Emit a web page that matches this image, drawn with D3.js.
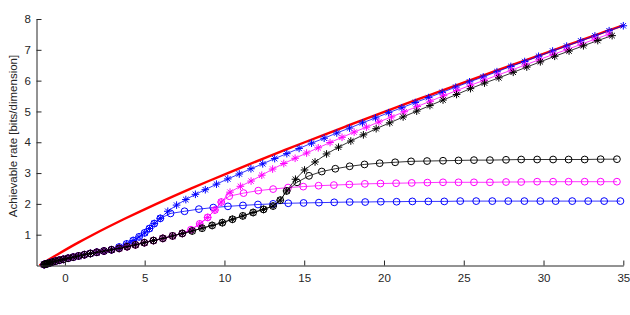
<!DOCTYPE html>
<html><head><meta charset="utf-8">
<script src="https://cdn.jsdelivr.net/npm/d3@7/dist/d3.min.js"></script>
<style>body{margin:0;background:#fff}svg{display:block}</style>
</head><body><svg id="c" width="630" height="315"></svg>
<script>
// ---- data (Eb/N0 in dB on x, rate in bits/dimension on y) ----
const xTicks = [0, 5, 10, 15, 20, 25, 30, 35];
const yTicks = [1, 2, 3, 4, 5, 6, 7, 8];
const yLabel = "Achievable rate [bits/dimension]";

// capacity (red)
const capX = [-1.59, -1.53, -1.44, -1.287, -1.054, -0.818, -0.414, 0, 0.86, 1.761, 2.701, 3.68, 4.694, 5.74, 6.818, 7.924, 9.055, 10.212, 11.39, 12.587, 13.8, 15.034, 16.28, 17.542, 18.81, 20.099, 21.39, 22.697, 24.01, 25.331, 26.66, 27.994, 29.34, 30.683, 32.04, 33.393, 34.76, 35.0];
const capY = [0, 0.02, 0.05, 0.1, 0.175, 0.25, 0.375, 0.5, 0.75, 1, 1.25, 1.5, 1.75, 2, 2.25, 2.5, 2.75, 3, 3.25, 3.5, 3.75, 4, 4.25, 4.5, 4.75, 5, 5.25, 5.5, 5.75, 6, 6.25, 6.5, 6.75, 7, 7.25, 7.5, 7.75, 7.79];

// shared low-SNR segment (all six schemes coincide here)
const lowX = [-1.3, -1.25, -1.18, -1.08, -0.95, -0.8, -0.6, -0.36, -0.1, 0.2, 0.52, 0.86, 1.22, 1.6, 2.0, 2.45, 2.92, 3.4, 3.9, 4.42, 4.98, 5.55, 6.14, 6.75, 7.36, 7.98, 8.6, 9.23, 9.87, 10.5, 11.15, 11.8, 12.45, 13.05, 13.5, 13.9];
const lowY = [0.03, 0.04, 0.05, 0.065, 0.085, 0.11, 0.14, 0.17, 0.2, 0.235, 0.27, 0.31, 0.35, 0.39, 0.43, 0.47, 0.51, 0.555, 0.61, 0.67, 0.74, 0.81, 0.88, 0.96, 1.04, 1.12, 1.21, 1.30, 1.39, 1.5, 1.61, 1.72, 1.82, 1.93, 2.12, 2.42];
const blueSplit = 17, magentaSplit = 25;

// blue branch shared by the two blue curves
const blueBranchX = [3.4, 3.87, 4.28, 4.65, 5.0, 5.3, 5.6, 5.98];
const blueBranchY = [0.6, 0.7, 0.81, 0.93, 1.06, 1.2, 1.36, 1.53];
const blueCircX = [6.62, 7.5, 8.4, 9.3, 10.22, 11.16, 12.1, 13.05, 14.0, 14.96, 15.92, 16.88, 17.85, 18.82, 19.8, 20.79, 21.78, 22.78, 23.78, 24.78, 25.78, 26.79, 27.79, 28.8, 29.8, 30.76, 31.8, 32.8, 33.8, 34.82];
const blueCircY = [1.69, 1.76, 1.83, 1.88, 1.92, 1.95, 1.98, 2.0, 2.02, 2.03, 2.04, 2.05, 2.06, 2.06, 2.07, 2.07, 2.08, 2.08, 2.08, 2.09, 2.09, 2.09, 2.09, 2.09, 2.09, 2.09, 2.09, 2.09, 2.09, 2.09];
const blueStarX = [6.45, 7.0, 7.58, 8.18, 8.8, 9.5, 10.21, 10.93, 11.66, 12.4, 13.15, 13.91, 14.68, 15.46, 16.25, 17.04, 17.84, 18.65, 19.47, 20.29, 21.12, 21.96, 22.8, 23.65, 24.5, 25.36, 26.22, 27.08, 27.95, 28.82, 29.69, 30.57, 31.45, 32.33, 33.22, 34.11, 35.0];
const blueStarY = [1.76, 1.96, 2.14, 2.31, 2.46, 2.64, 2.81, 2.97, 3.14, 3.30, 3.47, 3.63, 3.80, 3.97, 4.13, 4.30, 4.46, 4.63, 4.79, 4.96, 5.12, 5.29, 5.45, 5.62, 5.79, 5.96, 6.12, 6.29, 6.46, 6.62, 6.79, 6.96, 7.12, 7.29, 7.45, 7.62, 7.78];

// magenta branch shared by the two magenta curves
const magBranchX = [7.9, 8.45, 8.95, 9.4, 9.8];
const magBranchY = [1.16, 1.35, 1.56, 1.8, 2.06];
const magCircX = [10.3, 11.2, 12.12, 13.05, 13.99, 14.94, 15.9, 16.86, 17.83, 18.8, 19.78, 20.76, 21.74, 22.72, 23.7, 24.67, 25.64, 26.64, 27.65, 28.6, 29.6, 30.6, 31.57, 32.58, 33.58, 34.6];
const magCircY = [2.25, 2.35, 2.43, 2.48, 2.53, 2.56, 2.59, 2.61, 2.63, 2.65, 2.66, 2.67, 2.68, 2.69, 2.70, 2.70, 2.70, 2.70, 2.71, 2.71, 2.72, 2.72, 2.72, 2.72, 2.72, 2.72];
const magStarX = [10.35, 11.0, 11.67, 12.34, 13.02, 13.72, 14.43, 15.15, 15.88, 16.62, 17.37, 18.13, 18.9, 19.68, 20.47, 21.27, 22.08, 22.9, 23.73, 24.57, 25.42, 26.27, 27.13, 27.99, 28.86, 29.73, 30.6, 31.48, 32.36, 33.24, 34.12];
const magStarY = [2.38, 2.57, 2.74, 2.93, 3.13, 3.31, 3.48, 3.65, 3.82, 3.99, 4.16, 4.33, 4.49, 4.66, 4.82, 4.99, 5.16, 5.33, 5.51, 5.68, 5.85, 6.01, 6.18, 6.34, 6.51, 6.68, 6.85, 7.01, 7.18, 7.35, 7.51];

// black curves continue the low segment directly
const blackCircX = [14.55, 15.3, 16.1, 16.95, 17.85, 18.78, 19.73, 20.7, 21.7, 22.7, 23.7, 24.67, 25.64, 26.64, 27.65, 28.6, 29.6, 30.6, 31.57, 32.58, 33.58, 34.6];
const blackCircY = [2.7, 2.91, 3.05, 3.14, 3.22, 3.28, 3.32, 3.35, 3.38, 3.39, 3.40, 3.41, 3.42, 3.42, 3.43, 3.44, 3.44, 3.44, 3.44, 3.44, 3.45, 3.45];
const blackStarX = [14.45, 15.02, 15.68, 16.4, 17.15, 17.92, 18.71, 19.51, 20.36, 21.2, 22.05, 22.88, 23.7, 24.55, 25.42, 26.3, 27.2, 28.1, 28.95, 29.8, 30.7, 31.6, 32.5, 33.4, 34.3];
const blackStarY = [2.8, 3.1, 3.36, 3.62, 3.84, 4.04, 4.24, 4.44, 4.63, 4.82, 5.01, 5.19, 5.37, 5.55, 5.74, 5.92, 6.09, 6.27, 6.44, 6.61, 6.79, 6.96, 7.13, 7.30, 7.46];

// ---- assemble ----
const zip = (xs, ys) => xs.map((v, i) => [v, ys[i]]);
const low = zip(lowX, lowY);
const blueBranch = zip(blueBranchX, blueBranchY);
const magBranch = zip(magBranchX, magBranchY);
const series = [
  {color: "#0000ff", marker: "o", pts: low.slice(0, blueSplit).concat(blueBranch, zip(blueCircX, blueCircY))},
  {color: "#0000ff", marker: "*", pts: low.slice(0, blueSplit).concat(blueBranch, zip(blueStarX, blueStarY))},
  {color: "#ff00ff", marker: "o", pts: low.slice(0, magentaSplit).concat(magBranch, zip(magCircX, magCircY))},
  {color: "#ff00ff", marker: "*", pts: low.slice(0, magentaSplit).concat(magBranch, zip(magStarX, magStarY))},
  {color: "#000000", marker: "o", pts: low.concat(zip(blackCircX, blackCircY))},
  {color: "#000000", marker: "*", pts: low.concat(zip(blackStarX, blackStarY))}
];

// ---- drawing ----
const svg = d3.select("#c");
const x = d3.scaleLinear().domain([-1.78, 35]).range([36.5, 623.3]);
const y = d3.scaleLinear().domain([0, 8]).range([265.5, 19]);
const font = "'Liberation Sans', Arial, Helvetica, sans-serif";
const axCol = "#262626";

const line = d3.line().x(d => x(d[0])).y(d => y(d[1]));

svg.append("path")
  .datum(zip(capX, capY))
  .attr("fill", "none").attr("stroke", "#ff0000").attr("stroke-width", 2.4)
  .attr("d", d3.line().x(d => x(d[0])).y(d => y(d[1])).curve(d3.curveMonotoneX));

const starPath = "M-3.8,0L3.8,0M0,-3.8L0,3.8M-2.7,-2.7L2.7,2.7M-2.7,2.7L2.7,-2.7";
series.forEach(s => {
  const g = svg.append("g");
  g.append("path").datum(s.pts)
    .attr("fill", "none").attr("stroke", s.color).attr("stroke-width", 0.8).attr("d", line);
  if (s.marker === "o") {
    g.selectAll("circle").data(s.pts).join("circle")
      .attr("cx", d => x(d[0])).attr("cy", d => y(d[1])).attr("r", 3.4)
      .attr("fill", "none").attr("stroke", s.color).attr("stroke-width", 1);
  } else {
    g.selectAll("path.m").data(s.pts).join("path").attr("class", "m")
      .attr("transform", d => `translate(${x(d[0])},${y(d[1])})`)
      .attr("d", starPath).attr("fill", "none").attr("stroke", s.color).attr("stroke-width", 1);
  }
});

// axes
const xAxis = svg.append("g").attr("transform", "translate(0,265.5)")
  .call(d3.axisBottom(x).tickValues(xTicks).tickSizeInner(-5).tickSizeOuter(0).tickPadding(8));
const yAxis = svg.append("g").attr("transform", "translate(36.5,0)")
  .call(d3.axisLeft(y).tickValues(yTicks).tickSizeInner(-5).tickSizeOuter(0).tickPadding(5.5));
[xAxis, yAxis].forEach(a => {
  a.select(".domain").attr("stroke", axCol).attr("stroke-width", 1);
  a.selectAll(".tick line").attr("stroke", axCol).attr("stroke-width", 1);
  a.selectAll(".tick text").attr("fill", axCol).style("font-family", font).style("font-size", "11.5px");
});

svg.append("text")
  .attr("transform", "translate(17,136) rotate(-90)")
  .attr("text-anchor", "middle").attr("fill", axCol)
  .style("font-family", font).style("font-size", "11.5px")
  .text(yLabel);
</script></body></html>
